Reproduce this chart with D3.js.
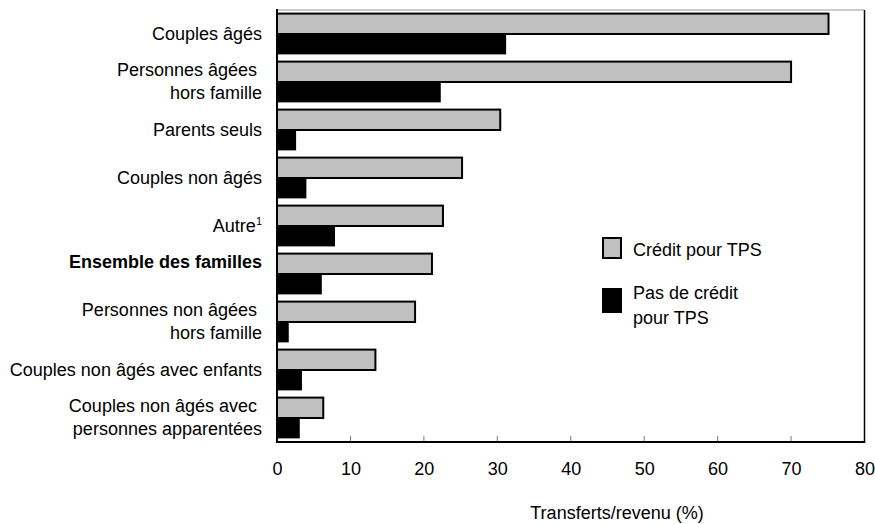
<!DOCTYPE html>
<html>
<head>
<meta charset="utf-8">
<script src="https://cdn.jsdelivr.net/npm/d3@7"></script>
<style>
  body { margin: 0; background: #fff; }
  svg { display: block; font-family: "Liberation Sans", Arial, sans-serif; }
</style>
</head>
<body>
<svg id="chart" width="875" height="524"></svg>
<script>
const categories = [
  "Couples âgés",
  "Personnes âgées hors famille",
  "Parents seuls",
  "Couples non âgés",
  "Autre",
  "Ensemble des familles",
  "Personnes non âgées hors famille",
  "Couples non âgés avec enfants",
  "Couples non âgés avec personnes apparentées"
];
const labelLines = [
  ["Couples âgés"],
  ["Personnes âgées ", "hors famille"],
  ["Parents seuls"],
  ["Couples non âgés"],
  ["Autre"],
  ["Ensemble des familles", ""],
  ["Personnes non âgées ", "hors famille"],
  ["Couples non âgés avec enfants"],
  ["Couples non âgés avec ", "personnes apparentées"]
];
const creditTPS = [75.1, 70.0, 30.4, 25.2, 22.6, 21.1, 18.8, 13.4, 6.3];
const sansCreditTPS = [31.2, 22.3, 2.6, 4.0, 7.9, 6.1, 1.6, 3.4, 3.1];
const xTicks = [0, 10, 20, 30, 40, 50, 60, 70, 80];
const seriesNames = ["Crédit pour TPS", "Pas de crédit pour TPS"];
const xTitle = "Transferts/revenu (%)";

const svg = d3.select("#chart");
const L = 277, R = 864.5, T = 10, B = 442;
const FS = 18;

const x = d3.scaleLinear().domain([0, 80]).range([L, R]);
const y = d3.scaleBand().domain(categories).range([T, B]).paddingInner(0.15).paddingOuter(0.075);
const sub = d3.scaleBand().domain(["c", "s"]).range([0, y.bandwidth()]);

// frame
svg.append("line").attr("x1", L).attr("x2", R).attr("y1", T).attr("y2", T)
  .attr("stroke", "#999").attr("stroke-width", 1);
svg.append("line").attr("x1", R).attr("x2", R).attr("y1", T).attr("y2", B)
  .attr("stroke", "#000").attr("stroke-width", 1.5);

// bars
const g = svg.append("g");
categories.forEach((c, i) => {
  g.append("rect")
    .attr("x", x(0)).attr("y", y(c) + sub("s"))
    .attr("width", x(sansCreditTPS[i]) - x(0)).attr("height", sub.bandwidth())
    .attr("fill", "#000");
  g.append("rect")
    .attr("x", x(0)).attr("y", y(c) + sub("c"))
    .attr("width", x(creditTPS[i]) - x(0)).attr("height", sub.bandwidth())
    .attr("fill", "#c0c0c0").attr("stroke", "#000").attr("stroke-width", 2);
});

// x axis
const xAxis = d3.axisBottom(x).tickValues(xTicks).tickSize(0).tickPadding(0).tickFormat(d3.format("d"));
const ax = svg.append("g").attr("transform", `translate(0,${B})`).call(xAxis);
ax.select(".domain").remove();
ax.selectAll("text").attr("y", 33).attr("dy", 0).attr("font-size", FS)
  .attr("font-family", "Liberation Sans, Arial, sans-serif").attr("fill", "#000");
// inner tick marks
svg.append("g").selectAll("line").data(xTicks.slice(1, -1)).join("line")
  .attr("x1", d => x(d)).attr("x2", d => x(d)).attr("y1", B).attr("y2", B - 6)
  .attr("stroke", "#777").attr("stroke-width", 1);

// left and bottom axis lines
svg.append("line").attr("x1", L).attr("x2", L).attr("y1", T - 1).attr("y2", B + 1)
  .attr("stroke", "#000").attr("stroke-width", 2);
svg.append("line").attr("x1", L - 1).attr("x2", R + 0.75).attr("y1", B).attr("y2", B)
  .attr("stroke", "#000").attr("stroke-width", 2);

// category labels
const lab = svg.append("g").attr("font-size", FS).attr("text-anchor", "end").attr("fill", "#000");
categories.forEach((c, i) => {
  const cy = y(c) + y.bandwidth() / 2;
  const lines = labelLines[i];
  const t = lab.append("text").attr("x", 262).style("white-space", "pre");
  if (i === 5) t.attr("font-weight", "bold");
  if (lines.length === 1) {
    t.attr("y", cy + 6).text(lines[0]);
    if (i === 4) {
      t.text("");
      t.append("tspan").text(lines[0]);
      t.append("tspan").attr("font-size", 11).attr("dy", -7).text("1");
    }
  } else {
    lines.forEach((ln, k) => {
      t.append("tspan").attr("x", 262).attr("y", cy - 12 + 6 + k * 23).text(ln);
    });
  }
});

// legend
const lg = svg.append("g").attr("font-size", FS);
lg.append("rect").attr("x", 603).attr("y", 238).attr("width", 18).attr("height", 20)
  .attr("fill", "#c0c0c0").attr("stroke", "#000").attr("stroke-width", 2);
lg.append("text").attr("x", 633).attr("y", 256).text(seriesNames[0]);
lg.append("rect").attr("x", 602).attr("y", 288).attr("width", 20).attr("height", 25)
  .attr("fill", "#000");
const lt = lg.append("text");
lt.append("tspan").attr("x", 633).attr("y", 299).text("Pas de crédit");
lt.append("tspan").attr("x", 633).attr("y", 324).text("pour TPS");

// x title
svg.append("text").attr("x", 617).attr("y", 519).attr("text-anchor", "middle")
  .attr("font-size", FS).text(xTitle);
</script>
</body>
</html>
